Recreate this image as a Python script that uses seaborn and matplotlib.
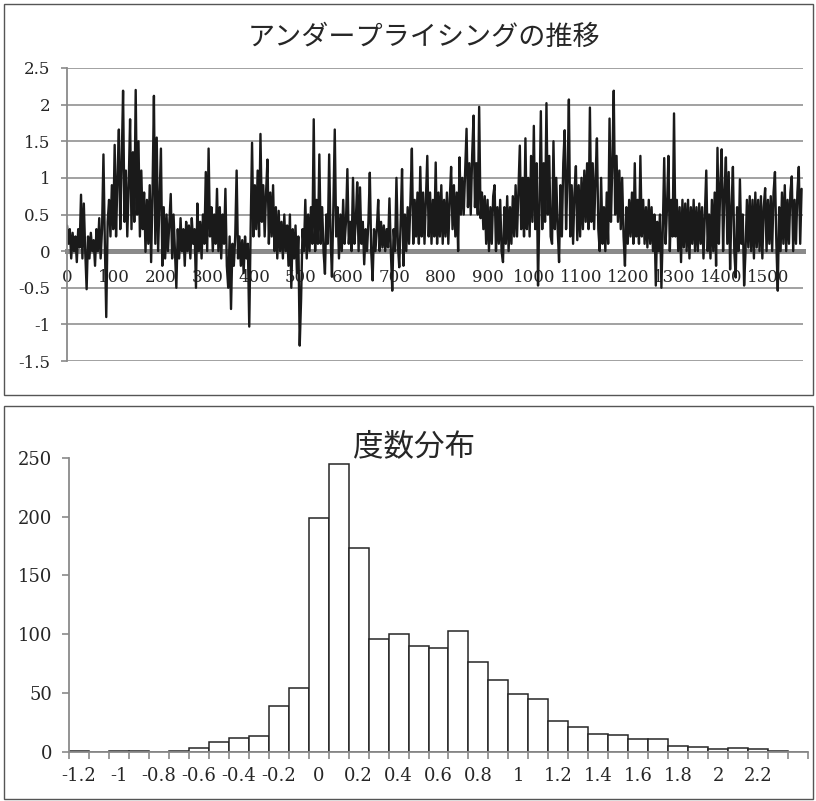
import numpy as np
import matplotlib
matplotlib.use("Agg")
import matplotlib.pyplot as plt
import seaborn as sns
from matplotlib.patches import Rectangle
from matplotlib.ticker import FixedLocator, FuncFormatter

# ---------- data ----------

series_step = 3
underpricing = [
    0.35, 0.1, 0.3, -0.1, 0.25, 0.0, 0.2, -0.15, 0.3, 0.05, 0.77, -0.1, 0.65, 0.0, -0.52, 0.2, -0.1, 0.25, 0.0, 0.15,
    -0.2, 0.3, 0.0, 0.45, -0.1, 0.3, 1.32, 0.1, -0.9, 0.4, 0.7, 0.2, 0.9, 0.3, 1.45, 0.2, 1.0, 1.66, 0.3, 1.2,
    2.19, 0.4, 1.1, 0.2, 0.9, 1.8, 0.3, 1.35, 0.4, 2.2, 0.5, 1.5, 0.2, 1.1, 0.3, 0.8, -0.01, 0.7, 0.1, 0.9,
    -0.15, 0.8, 2.12, 0.1, 1.55, 0.0, 0.7, 1.4, -0.2, 0.6, -0.1, 0.5, 0.0, 0.4, 0.78, -0.1, 0.5, 0.0, -0.5, 0.3,
    -0.1, 0.45, 0.0, 0.3, -0.2, 0.4, 0.0, 0.35, -0.1, 0.45, 0.1, 0.3, -0.5, 0.65, 0.0, 0.4, -0.1, 0.5, 0.1, 1.08,
    0.0, 1.4, 0.2, 0.6, 0.0, 0.5, 0.1, 0.85, 0.0, 0.6, -0.1, 0.5, 0.1, 0.85, -0.2, -0.5, 0.2, -0.79, 0.1, -0.2,
    0.2, 1.1, -0.1, 0.2, -0.2, 0.15, -0.3, 0.2, -0.1, 0.1, -1.03, 0.3, 1.48, 0.2, 0.9, 0.3, 1.1, 0.2, 1.6, 0.4,
    0.9, 0.2, 0.8, 1.25, 0.1, 0.8, 0.2, 0.9, 0.0, 0.6, -0.1, 0.55, 0.0, 0.4, -0.1, 0.5, 0.0, 0.35, -0.2, 0.5,
    -0.5, 0.3, -0.1, 0.35, -0.3, 0.2, -1.29, -0.65, 0.3, 0.0, 0.7, -0.1, 0.5, 0.0, 0.6, 0.1, 1.8, 0.0, 0.7, 0.1,
    1.32, 0.1, 0.6, 0.0, -0.31, 0.5, 0.1, 1.32, 0.2, -0.35, 0.6, 1.66, 0.2, 0.6, -0.1, 0.5, 0.0, 0.7, 0.1, 0.4,
    1.12, 0.1, 0.4, 0.0, 1.0, 0.1, 0.4, 0.94, 0.0, 0.87, 0.1, 0.4, -0.18, 0.3, 0.0, 0.4, 1.07, 0.0, -0.4, 0.3,
    0.0, 0.3, 0.7, 0.0, 0.4, 0.05, 0.35, 0.0, 0.3, 0.05, 0.72, 0.0, -0.54, 0.3, 0.0, 1.0, 0.1, -0.22, 0.4, 1.12,
    -0.2, 0.5, 0.0, 0.6, 0.1, 0.7, 1.4, 0.1, 0.7, 0.2, 0.8, 0.1, 1.15, 0.2, 0.8, 0.1, 0.7, 1.3, 0.2, 0.8,
    0.1, 0.7, 0.2, 1.21, 0.1, 0.8, 0.2, 0.9, 0.1, 0.7, 0.2, 0.8, 0.1, 0.7, 1.15, 0.3, 0.9, 0.2, 0.8, 0.0,
    1.28, 0.5, 1.0, 0.5, 1.1, 1.67, 0.6, 1.2, 0.5, 1.3, 1.85, 0.6, 1.2, 0.5, 1.97, 0.45, 0.8, 0.3, 0.75, 0.1,
    0.7, 0.0, 0.6, 0.1, 0.75, 0.9, 0.0, 0.6, 0.1, 0.7, 0.0, -0.15, 0.6, 0.1, 0.75, 0.0, 0.6, 0.1, 0.75, 0.2,
    0.9, 0.2, 0.8, 1.44, 0.3, 1.0, 0.2, 1.54, 0.3, 1.0, 0.2, 1.3, 0.4, 1.71, 0.3, 1.2, -0.47, 0.6, 1.91, 0.3,
    1.2, 0.4, 2.02, 0.5, 1.3, 0.2, 0.1, 1.5, 0.3, 1.0, 0.3, -0.15, 0.9, 0.2, 1.2, 1.65, 0.3, 1.0, 2.07, 0.2,
    0.9, 0.1, 0.8, 1.16, 0.15, 0.9, 0.2, 1.0, 0.3, 1.1, 0.4, 1.2, 0.3, 1.96, 0.4, 1.2, 0.3, 1.0, 1.54, 0.3,
    0.0, 1.0, 0.1, 0.6, 0.0, 0.8, 0.1, 1.81, 0.4, 1.2, 2.19, 0.5, 1.3, 0.4, 1.1, 0.3, 1.0, 0.2, -0.2, 0.6,
    0.1, 0.7, 0.2, 0.8, 0.1, 1.2, 0.2, 0.7, 0.1, 1.3, 0.2, 0.7, 0.1, 0.6, 0.05, 0.7, 0.1, 0.6, 0.0, 0.5,
    -0.47, 0.4, 0.0, 0.5, -0.5, 0.3, 1.27, 0.1, 0.6, 1.3, 0.0, 0.7, 0.2, 1.88, 0.2, 0.7, 0.0, 0.6, -0.15, 0.7,
    0.05, 0.65, 0.0, 0.7, -0.1, 0.6, 0.1, 0.7, 0.0, 0.6, 0.0, 0.65, 0.1, 0.6, -0.1, 0.5, 1.1, 0.0, 0.5, -0.1,
    0.7, 0.0, 0.8, -0.2, 1.41, 0.1, 0.9, 1.39, 0.0, 0.8, 1.28, 0.1, 1.08, -0.25, 0.6, 1.15, 0.0, -0.36, 0.6, 0.0,
    0.98, 0.1, 0.5, -0.47, 0.0, 0.7, 0.05, 0.75, 0.0, 0.7, -0.1, 0.8, 0.05, 0.7, 0.0, 0.75, -0.1, 0.6, 0.86, 0.0,
    0.7, 0.1, 0.75, 0.0, 0.8, 1.08, 0.1, -0.54, 0.6, 0.0, 0.8, 0.1, 0.9, 0.0, 0.7, 0.1, 0.8, 1.02, 0.0, 0.7,
    0.1, 0.8, 1.15, 0.1, 0.85,
]
top_yticks = [-1.5, -1, -0.5, 0, 0.5, 1, 1.5, 2, 2.5]
top_xticks = [0, 100, 200, 300, 400, 500, 600, 700, 800, 900,
              1000, 1100, 1200, 1300, 1400, 1500]

# frequency distribution (class label, count)
hist_labels = ["-1.2", "-1.1", "-1", "-0.9", "-0.8", "-0.7", "-0.6", "-0.5",
               "-0.4", "-0.3", "-0.2", "-0.1", "0", "0.1", "0.2", "0.3",
               "0.4", "0.5", "0.6", "0.7", "0.8", "0.9", "1", "1.1", "1.2",
               "1.3", "1.4", "1.5", "1.6", "1.7", "1.8", "1.9", "2", "2.1",
               "2.2", "2.3", "2.4"]
hist_counts = [1, 0, 1, 1, 0, 1, 3, 8, 12, 13, 39, 54, 199, 245, 173, 96,
               100, 90, 88, 103, 76, 61, 49, 45, 26, 21, 15, 14, 11, 11, 5,
               4, 2, 3, 2, 1, 0]
bottom_yticks = [0, 50, 100, 150, 200, 250]

title_top = "アンダープライシングの推移"
title_bottom = "度数分布"

# ---------- style ----------
sns.set_style("white")
plt.rcParams["font.family"] = ["DejaVu Serif", "Noto Sans CJK JP"]
plt.rcParams["axes.unicode_minus"] = False

W, H = 816, 801
fig = plt.figure(figsize=(W / 100, H / 100), dpi=100)

def fx(px):
    return px / W

def fy(px):
    return 1 - px / H

GRID = "#9a9a9a"
AXIS = "#8a8a8a"
INK = "#1a1a1a"

# panel frames
for top, bot in [(4, 395), (406, 799)]:
    fig.add_artist(Rectangle((fx(4), fy(bot)), fx(809), (bot - top) / H,
                             transform=fig.transFigure, fill=False,
                             edgecolor="#555555", linewidth=1.0))

# ---------- top: time series ----------
ax1 = fig.add_axes([fx(67), fy(361), fx(803 - 67), (361 - 68) / H])
x_idx = np.arange(len(underpricing)) * series_step
sns.lineplot(x=x_idx, y=underpricing, ax=ax1, color=INK, linewidth=1.7,
             estimator=None, sort=False)
ax1.set_xlim(0, x_idx[-1] + 3)
ax1.set_ylim(-1.5, 2.5)
ax1.set_xlabel("")
ax1.set_ylabel("")
ax1.yaxis.set_major_locator(FixedLocator(top_yticks))
ax1.yaxis.set_major_formatter(FuncFormatter(lambda v, p: f"{v:g}"))
ax1.xaxis.set_major_locator(FixedLocator(top_xticks))
ax1.yaxis.grid(True, color=GRID, linewidth=1.3)
ax1.set_axisbelow(True)
for s in ["top", "right"]:
    ax1.spines[s].set_visible(False)
ax1.spines["left"].set_color(AXIS)
ax1.spines["left"].set_linewidth(1.3)
ax1.spines["bottom"].set_position(("data", 0))
ax1.spines["bottom"].set_color(AXIS)
ax1.spines["bottom"].set_linewidth(3.6)
ax1.spines["bottom"].set_zorder(1.9)
ax1.tick_params(axis="y", length=4, color=AXIS, width=1.2, pad=8,
                labelsize=12, left=True)
ax1.tick_params(axis="x", length=0, pad=13, labelsize=12, bottom=True)
fig.text(fx(424), fy(37), title_top, ha="center", va="center",
         fontsize=19.5, family=["Noto Sans CJK JP"])

# ---------- bottom: histogram ----------
ax2 = fig.add_axes([fx(69), fy(751.7), fx(808 - 69), (751.7 - 457.7) / H])
sns.barplot(x=hist_labels, y=hist_counts, order=hist_labels, ax=ax2,
            color="white", saturation=1, edgecolor="#262626",
            linewidth=1.1, width=1.0)
ax2.set_xlim(-0.5, len(hist_labels) - 0.5)
ax2.set_ylim(0, 250)
ax2.set_xlabel("")
ax2.set_ylabel("")
ax2.yaxis.set_major_locator(FixedLocator(bottom_yticks))
shown = list(range(0, 35, 2))
ax2.set_xticks(shown)
ax2.set_xticklabels([hist_labels[i] for i in shown])
ax2.set_xticks(np.arange(len(hist_labels) + 1) - 0.5, minor=True)
for s in ["top", "right"]:
    ax2.spines[s].set_visible(False)
for s in ["left", "bottom"]:
    ax2.spines[s].set_color(AXIS)
    ax2.spines[s].set_linewidth(1.3)
ax2.tick_params(axis="y", length=5, color=AXIS, width=1.2, pad=7,
                labelsize=13, left=True)
ax2.tick_params(axis="x", which="major", length=0, pad=11, labelsize=13,
                bottom=True)
ax2.tick_params(axis="x", which="minor", length=5, color=AXIS, width=1.2,
                bottom=True)
fig.text(fx(414), fy(447), title_bottom, ha="center", va="center",
         fontsize=22, family=["Noto Sans CJK JP"])

fig.savefig("out.png", dpi=100)
